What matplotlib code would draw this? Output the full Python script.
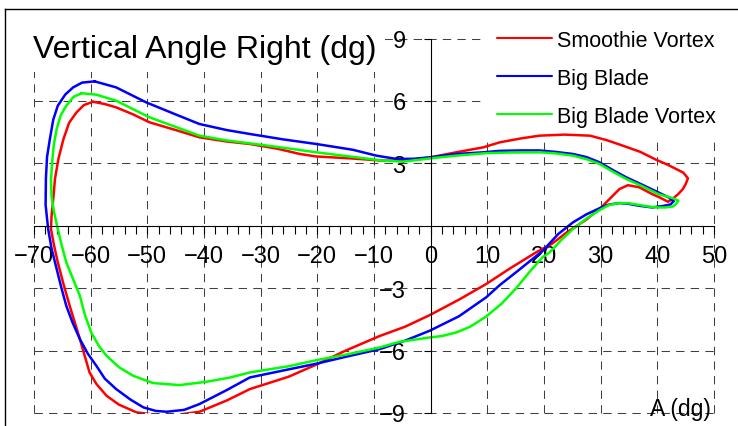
import matplotlib
import matplotlib.pyplot as plt
from matplotlib.lines import Line2D

matplotlib.use("Agg")

plt.rcParams["font.family"] = ["Liberation Sans", "DejaVu Sans"]

# horizontal vs vertical angle loops, one closed path per blade
smoothie_x = [-59.6, -57.5, -55.5, -52.5, -49.6, -45.0, -40.8, -36.0, -31.9, -27.0,
              -23.1, -20.2, -14.3, -8.4, -5.6, -2.5, 0.0, 4.5, 9.3, 12.2,
              16.0, 19.2, 23.6, 28.1, 31.0, 33.9, 37.0, 39.8, 41.7, 43.3,
              44.6, 45.4, 45.0, 44.5, 43.6, 42.8, 41.9, 40.5, 39.1, 36.8,
              34.8, 33.3, 31.8, 30.1, 27.5, 24.0, 21.5, 18.6, 14.0, 9.8,
              5.0, -0.2, -4.5, -9.0, -15.0, -20.0, -25.0, -31.9, -36.0, -40.8,
              -45.0, -48.0, -51.9, -55.0, -57.2, -59.0, -60.2, -61.0, -61.9, -62.8,
              -63.7, -64.8, -65.8, -66.5, -67.0, -66.9, -66.7, -66.5, -66.3, -65.7,
              -64.8, -63.8, -62.5, -61.2, -59.6]
smoothie_y = [5.96, 5.85, 5.69, 5.35, 4.97, 4.60, 4.25, 4.05, 3.93, 3.70,
              3.45, 3.33, 3.24, 3.13, 3.13, 3.20, 3.29, 3.53, 3.77, 4.01,
              4.20, 4.33, 4.38, 4.33, 4.12, 3.85, 3.55, 3.17, 2.95, 2.73,
              2.55, 2.28, 2.00, 1.76, 1.50, 1.32, 1.15, 1.35, 1.52, 1.85,
              1.95, 1.76, 1.35, 0.88, 0.30, -0.32, -0.85, -1.28, -2.05, -2.80,
              -3.55, -4.30, -4.85, -5.30, -6.00, -6.65, -7.25, -7.85, -8.40, -8.94,
              -9.10, -9.10, -8.97, -8.60, -8.17, -7.60, -7.05, -6.30, -5.45, -4.65,
              -3.85, -2.80, -1.76, -0.90, -0.16, 0.50, 1.00, 1.60, 2.25, 3.20,
              4.17, 4.95, 5.45, 5.80, 5.96]

bigblade_x = [-59.3, -55.5, -50.2, -45.0, -40.8, -36.0, -31.9, -26.0, -20.2, -13.7,
              -9.6, -6.0, -3.0, 0.0, 4.5, 9.3, 12.2, 16.0, 19.2, 22.0,
              25.1, 27.5, 29.8, 32.0, 34.5, 37.5, 40.2, 42.0, 42.9, 42.3,
              41.0, 39.1, 36.8, 35.0, 33.3, 31.5, 30.1, 27.5, 25.1, 22.5,
              19.8, 15.0, 12.2, 9.8, 5.0, -0.2, -4.5, -9.0, -15.0, -20.0,
              -25.0, -31.9, -36.0, -40.8, -43.5, -46.6, -48.5, -50.7, -53.0, -55.5,
              -57.5, -59.0, -60.5, -61.9, -63.2, -64.3, -65.2, -66.0, -66.9, -67.5,
              -67.95, -67.9, -67.7, -67.2, -66.6, -65.8, -64.5, -63.1, -61.5, -59.3]
bigblade_y = [6.94, 6.65, 5.93, 5.35, 4.89, 4.60, 4.41, 4.15, 3.93, 3.65,
              3.37, 3.21, 3.22, 3.29, 3.45, 3.53, 3.60, 3.62, 3.62, 3.55,
              3.45, 3.30, 3.05, 2.70, 2.33, 1.95, 1.60, 1.36, 1.18, 1.02,
              0.95, 0.88, 0.96, 1.05, 1.09, 1.02, 0.88, 0.55, 0.16, -0.40,
              -1.20, -2.25, -2.85, -3.44, -4.35, -5.05, -5.52, -5.93, -6.30, -6.62,
              -6.90, -7.29, -7.90, -8.57, -8.85, -8.94, -8.90, -8.73, -8.35, -7.85,
              -7.35, -6.73, -6.15, -5.45, -4.65, -3.85, -2.95, -2.08, -1.10, -0.16,
              1.00, 2.25, 3.30, 4.17, 5.10, 5.77, 6.30, 6.65, 6.88, 6.94]

vortex_x = [-61.6, -59.0, -55.5, -52.5, -49.6, -45.0, -40.8, -36.0, -31.9, -26.0,
            -20.2, -14.3, -8.4, -4.9, 0.0, 4.5, 9.8, 14.0, 19.2, 22.0,
            25.1, 27.5, 29.8, 32.0, 34.5, 37.5, 40.2, 42.8, 43.7, 43.3,
            42.8, 41.5, 40.2, 38.5, 36.8, 35.0, 33.3, 31.5, 30.1, 27.5,
            25.1, 23.0, 21.0, 19.8, 17.5, 15.1, 12.5, 9.8, 7.0, 4.5,
            2.0, -0.2, -5.5, -9.0, -15.0, -20.0, -25.0, -31.9, -35.5, -39.6,
            -44.3, -49.0, -52.5, -55.0, -57.2, -58.5, -59.9, -61.0, -61.9, -63.2,
            -64.3, -65.1, -65.8, -66.5, -66.9, -67.0, -66.8, -66.5, -66.0, -65.3,
            -64.3, -63.0, -61.6]
vortex_y = [6.37, 6.30, 6.01, 5.60, 5.21, 4.75, 4.33, 4.10, 3.96, 3.75,
            3.53, 3.33, 3.13, 3.08, 3.24, 3.37, 3.49, 3.52, 3.53, 3.48,
            3.37, 3.20, 2.97, 2.62, 2.25, 1.88, 1.52, 1.32, 1.20, 1.05,
            0.93, 0.88, 0.88, 0.92, 1.00, 1.08, 1.09, 1.00, 0.80, 0.35,
            -0.16, -0.70, -1.28, -1.50, -2.20, -3.00, -3.75, -4.36, -4.85, -5.13,
            -5.30, -5.37, -5.58, -5.85, -6.20, -6.45, -6.75, -7.05, -7.30, -7.50,
            -7.66, -7.56, -7.21, -6.80, -6.25, -5.80, -5.13, -4.30, -3.37, -2.50,
            -1.76, -0.95, -0.16, 0.70, 1.44, 2.20, 3.05, 3.90, 4.65, 5.30,
            5.77, 6.20, 6.37]

x_ticks = [-70, -60, -50, -40, -30, -20, -10, 0, 10, 20, 30, 40, 50]
y_ticks = [-9, -6, -3, 3, 6, 9]

fig = plt.figure(figsize=(7.38, 4.27), dpi=100)
ax = fig.add_axes([34 / 738, 13 / 427, 680 / 738, 374.5 / 427])

line_kw = dict(linewidth=1.8, solid_joinstyle="round", solid_capstyle="round")
ax.plot(smoothie_x, smoothie_y, color="#ff0000", label="Smoothie Vortex", **line_kw)
ax.plot(bigblade_x, bigblade_y, color="#0000ff", label="Big Blade", **line_kw)
ax.plot(vortex_x, vortex_y, color="#00ff00", label="Big Blade Vortex", **line_kw)

ax.set_xlim(-70, 50)
ax.set_ylim(-9, 9)

# axes cross at the origin
ax.spines["left"].set_position(("data", 0))
ax.spines["bottom"].set_position(("data", 0))
ax.spines["top"].set_visible(False)
ax.spines["right"].set_visible(False)
ax.spines["left"].set_linewidth(0.8)
ax.spines["bottom"].set_linewidth(0.8)

ax.set_xticks(x_ticks)
ax.set_xticks(range(-70, 51, 2), minor=True)
ax.set_yticks(y_ticks)
ax.tick_params(axis="x", which="both", direction="out", length=6, width=0.8,
               labelsize=17, pad=8)
ax.tick_params(axis="y", direction="out", length=5, width=0.8,
               labelsize=17, pad=13)

# dashed grid, gridlines at the edges too
for x in x_ticks:
    if x != 0:
        ax.axvline(x, color="#404040", linestyle=(0, (8, 6)), linewidth=0.75,
                   zorder=0, clip_on=False)
for y in y_ticks:
    ax.axhline(y, color="#404040", linestyle=(0, (8, 6)), linewidth=0.75,
               zorder=0, clip_on=False)

ax.text(0.95, -0.005, "A (dg)", transform=ax.transAxes, ha="center",
        va="baseline", fontsize=16.5)
fig.text(33 / 738, 1 - 58 / 427, "Vertical Angle Right (dg)", ha="left",
         va="baseline", fontsize=23,
         bbox=dict(facecolor="white", edgecolor="none", pad=6))

leg = ax.legend(loc="upper left", bbox_to_anchor=(484 / 738, 1 - 18 / 427),
                bbox_transform=fig.transFigure, frameon=True, facecolor="white",
                edgecolor="none", framealpha=1, fancybox=False, fontsize=15.5,
                handlelength=2.55, handletextpad=0.25, labelspacing=0.78,
                borderpad=0.6, borderaxespad=0)
# white legend box hides the grid but stays under the curves
leg.set_zorder(1.5)
for h in leg.get_lines():
    h.set_linewidth(1.5)

# outer frame (top and left edges)
fig.add_artist(Line2D([5 / 738, 1], [1 - 10 / 427, 1 - 10 / 427],
                      transform=fig.transFigure, color="black", linewidth=1))
fig.add_artist(Line2D([5 / 738, 5 / 738], [0, 1 - 10 / 427],
                      transform=fig.transFigure, color="black", linewidth=1))

fig.savefig("out.png", dpi=100)
plt.close(fig)
